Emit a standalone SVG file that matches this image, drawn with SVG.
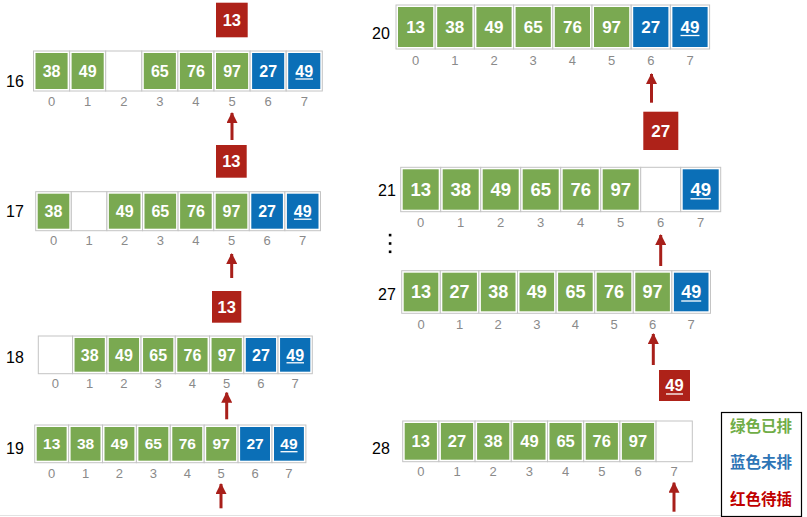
<svg xmlns="http://www.w3.org/2000/svg" width="807" height="517" viewBox="0 0 807 517">
<style>
.c{fill:#fff;stroke:#c4c4c4;stroke-width:1}
.g{fill:#7aa951}
.b{fill:#0b6fb7}
.r{fill:#ae2219}
.v{fill:#fff;font-family:"Liberation Sans",Arial,sans-serif;font-weight:bold;text-anchor:middle}
.ix{fill:#8a8a8a;font-family:"Liberation Sans",Arial,sans-serif;font-size:13px;text-anchor:middle}
.lb{fill:#000;font-family:"Liberation Sans",Arial,sans-serif;font-size:16px}
.u{stroke:#fff;stroke-width:1.3}
.ar{stroke:#a81f1a;stroke-width:3;fill:none;marker-end:url(#ah)}
.lg{font-family:"Noto Sans CJK SC",sans-serif;font-weight:bold;font-size:15.5px;text-anchor:middle}
</style>
<defs>
<marker id="ah" markerUnits="userSpaceOnUse" markerWidth="11" markerHeight="11" refX="10" refY="5.5" orient="auto">
<path d="M0,0 L11,5.5 L0,11 z" fill="#a81f1a"/>
</marker>
</defs>
<rect width="807" height="517" fill="#fff"/>
<line x1="0" y1="515.5" x2="721" y2="515.5" stroke="#e2e2e2" stroke-width="1"/>

<!-- Row 16 -->
<g id="row16">
<text class="lb" x="6" y="86.5">16</text>
<rect class="c" x="33.5" y="51" width="36.1" height="40"/><rect class="c" x="69.6" y="51" width="36.1" height="40"/><rect class="c" x="105.7" y="51" width="36.1" height="40"/><rect class="c" x="141.8" y="51" width="36.1" height="40"/><rect class="c" x="177.9" y="51" width="36.1" height="40"/><rect class="c" x="214" y="51" width="36.1" height="40"/><rect class="c" x="250.1" y="51" width="36.1" height="40"/><rect class="c" x="286.2" y="51" width="36.1" height="40"/>
<rect class="g" x="35.5" y="53" width="32.1" height="36"/><rect class="g" x="71.6" y="53" width="32.1" height="36"/><rect class="g" x="143.8" y="53" width="32.1" height="36"/><rect class="g" x="179.9" y="53" width="32.1" height="36"/><rect class="g" x="216" y="53" width="32.1" height="36"/><rect class="b" x="252.1" y="53" width="32.1" height="36"/><rect class="b" x="288.2" y="53" width="32.1" height="36"/>
<g class="v" font-size="16"><text x="51.55" y="76.7">38</text><text x="87.65" y="76.7">49</text><text x="159.85" y="76.7">65</text><text x="195.95" y="76.7">76</text><text x="232.05" y="76.7">97</text><text x="268.15" y="76.7">27</text><text x="304.25" y="76.7">49</text></g>
<line class="u" x1="295.5" y1="79" x2="313" y2="79"/>
<g class="ix"><text x="51.55" y="106">0</text><text x="87.65" y="106">1</text><text x="123.75" y="106">2</text><text x="159.85" y="106">3</text><text x="195.95" y="106">4</text><text x="232.05" y="106">5</text><text x="268.15" y="106">6</text><text x="304.25" y="106">7</text></g>
</g>

<!-- Row 17 -->
<g id="row17">
<text class="lb" x="6" y="217">17</text>
<rect class="c" x="35.7" y="191.7" width="35.6" height="39"/><rect class="c" x="71.3" y="191.7" width="35.6" height="39"/><rect class="c" x="106.9" y="191.7" width="35.6" height="39"/><rect class="c" x="142.5" y="191.7" width="35.6" height="39"/><rect class="c" x="178.1" y="191.7" width="35.6" height="39"/><rect class="c" x="213.7" y="191.7" width="35.6" height="39"/><rect class="c" x="249.3" y="191.7" width="35.6" height="39"/><rect class="c" x="284.9" y="191.7" width="35.6" height="39"/>
<rect class="g" x="37.7" y="193.7" width="31.6" height="35"/><rect class="g" x="108.9" y="193.7" width="31.6" height="35"/><rect class="g" x="144.5" y="193.7" width="31.6" height="35"/><rect class="g" x="180.1" y="193.7" width="31.6" height="35"/><rect class="g" x="215.7" y="193.7" width="31.6" height="35"/><rect class="b" x="251.3" y="193.7" width="31.6" height="35"/><rect class="b" x="286.9" y="193.7" width="31.6" height="35"/>
<g class="v" font-size="16"><text x="53.5" y="216.9">38</text><text x="124.7" y="216.9">49</text><text x="160.3" y="216.9">65</text><text x="195.9" y="216.9">76</text><text x="231.5" y="216.9">97</text><text x="267.1" y="216.9">27</text><text x="302.7" y="216.9">49</text></g>
<line class="u" x1="294" y1="219.2" x2="311.5" y2="219.2"/>
<g class="ix"><text x="53.5" y="245">0</text><text x="89.1" y="245">1</text><text x="124.7" y="245">2</text><text x="160.3" y="245">3</text><text x="195.9" y="245">4</text><text x="231.5" y="245">5</text><text x="267.1" y="245">6</text><text x="302.7" y="245">7</text></g>
</g>

<!-- Row 18 -->
<g id="row18">
<text class="lb" x="6" y="362.5">18</text>
<rect class="c" x="38.3" y="336" width="34.25" height="37.7"/><rect class="c" x="72.55" y="336" width="34.25" height="37.7"/><rect class="c" x="106.8" y="336" width="34.25" height="37.7"/><rect class="c" x="141.05" y="336" width="34.25" height="37.7"/><rect class="c" x="175.3" y="336" width="34.25" height="37.7"/><rect class="c" x="209.55" y="336" width="34.25" height="37.7"/><rect class="c" x="243.8" y="336" width="34.25" height="37.7"/><rect class="c" x="278.05" y="336" width="34.25" height="37.7"/>
<rect class="g" x="74.55" y="338" width="30.25" height="33.7"/><rect class="g" x="108.8" y="338" width="30.25" height="33.7"/><rect class="g" x="143.05" y="338" width="30.25" height="33.7"/><rect class="g" x="177.3" y="338" width="30.25" height="33.7"/><rect class="g" x="211.55" y="338" width="30.25" height="33.7"/><rect class="b" x="245.8" y="338" width="30.25" height="33.7"/><rect class="b" x="280.05" y="338" width="30.25" height="33.7"/>
<g class="v" font-size="16"><text x="89.7" y="360.5">38</text><text x="123.9" y="360.5">49</text><text x="158.2" y="360.5">65</text><text x="192.4" y="360.5">76</text><text x="226.7" y="360.5">97</text><text x="260.9" y="360.5">27</text><text x="295.2" y="360.5">49</text></g>
<line class="u" x1="286.5" y1="362.8" x2="304" y2="362.8"/>
<g class="ix"><text x="55.4" y="388">0</text><text x="89.7" y="388">1</text><text x="123.9" y="388">2</text><text x="158.2" y="388">3</text><text x="192.4" y="388">4</text><text x="226.7" y="388">5</text><text x="260.9" y="388">6</text><text x="295.2" y="388">7</text></g>
</g>

<!-- Row 19 -->
<g id="row19">
<text class="lb" x="6" y="453.5">19</text>
<rect class="c" x="34.7" y="425" width="33.9" height="37.7"/><rect class="c" x="68.6" y="425" width="33.9" height="37.7"/><rect class="c" x="102.5" y="425" width="33.9" height="37.7"/><rect class="c" x="136.4" y="425" width="33.9" height="37.7"/><rect class="c" x="170.3" y="425" width="33.9" height="37.7"/><rect class="c" x="204.2" y="425" width="33.9" height="37.7"/><rect class="c" x="238.1" y="425" width="33.9" height="37.7"/><rect class="c" x="272" y="425" width="33.9" height="37.7"/>
<rect class="g" x="36.7" y="427" width="29.9" height="33.7"/><rect class="g" x="70.6" y="427" width="29.9" height="33.7"/><rect class="g" x="104.5" y="427" width="29.9" height="33.7"/><rect class="g" x="138.4" y="427" width="29.9" height="33.7"/><rect class="g" x="172.3" y="427" width="29.9" height="33.7"/><rect class="g" x="206.2" y="427" width="29.9" height="33.7"/><rect class="b" x="240.1" y="427" width="29.9" height="33.7"/><rect class="b" x="274" y="427" width="29.9" height="33.7"/>
<g class="v" font-size="15.5"><text x="51.65" y="449.4">13</text><text x="85.55" y="449.4">38</text><text x="119.45" y="449.4">49</text><text x="153.35" y="449.4">65</text><text x="187.25" y="449.4">76</text><text x="221.15" y="449.4">97</text><text x="255.05" y="449.4">27</text><text x="288.95" y="449.4">49</text></g>
<line class="u" x1="280.5" y1="451.7" x2="297.5" y2="451.7"/>
<g class="ix"><text x="51.65" y="477.5">0</text><text x="85.55" y="477.5">1</text><text x="119.45" y="477.5">2</text><text x="153.35" y="477.5">3</text><text x="187.25" y="477.5">4</text><text x="221.15" y="477.5">5</text><text x="255.05" y="477.5">6</text><text x="288.95" y="477.5">7</text></g>
</g>

<!-- Row 20 -->
<g id="row20">
<text class="lb" x="372" y="38.5">20</text>
<rect class="c" x="396" y="5" width="39.2" height="44"/><rect class="c" x="435.2" y="5" width="39.2" height="44"/><rect class="c" x="474.4" y="5" width="39.2" height="44"/><rect class="c" x="513.6" y="5" width="39.2" height="44"/><rect class="c" x="552.8" y="5" width="39.2" height="44"/><rect class="c" x="592" y="5" width="39.2" height="44"/><rect class="c" x="631.2" y="5" width="39.2" height="44"/><rect class="c" x="670.4" y="5" width="39.2" height="44"/>
<rect class="g" x="398" y="7" width="35.2" height="40"/><rect class="g" x="437.2" y="7" width="35.2" height="40"/><rect class="g" x="476.4" y="7" width="35.2" height="40"/><rect class="g" x="515.6" y="7" width="35.2" height="40"/><rect class="g" x="554.8" y="7" width="35.2" height="40"/><rect class="g" x="594" y="7" width="35.2" height="40"/><rect class="b" x="633.2" y="7" width="35.2" height="40"/><rect class="b" x="672.4" y="7" width="35.2" height="40"/>
<g class="v" font-size="17"><text x="415.6" y="33.1">13</text><text x="454.8" y="33.1">38</text><text x="494" y="33.1">49</text><text x="533.2" y="33.1">65</text><text x="572.4" y="33.1">76</text><text x="611.6" y="33.1">97</text><text x="650.8" y="33.1">27</text><text x="690" y="33.1">49</text></g>
<line class="u" x1="680.5" y1="35.5" x2="699.5" y2="35.5"/>
<g class="ix"><text x="415.6" y="64.5">0</text><text x="454.8" y="64.5">1</text><text x="494" y="64.5">2</text><text x="533.2" y="64.5">3</text><text x="572.4" y="64.5">4</text><text x="611.6" y="64.5">5</text><text x="650.8" y="64.5">6</text><text x="690" y="64.5">7</text></g>
</g>

<!-- Row 21 -->
<g id="row21">
<text class="lb" x="378" y="195.5" font-size="15">21</text>
<rect class="c" x="400.7" y="167.3" width="40" height="44.4"/><rect class="c" x="440.7" y="167.3" width="40" height="44.4"/><rect class="c" x="480.7" y="167.3" width="40" height="44.4"/><rect class="c" x="520.7" y="167.3" width="40" height="44.4"/><rect class="c" x="560.7" y="167.3" width="40" height="44.4"/><rect class="c" x="600.7" y="167.3" width="40" height="44.4"/><rect class="c" x="640.7" y="167.3" width="40" height="44.4"/><rect class="c" x="680.7" y="167.3" width="40" height="44.4"/>
<rect class="g" x="402.7" y="169.3" width="36" height="40.4"/><rect class="g" x="442.7" y="169.3" width="36" height="40.4"/><rect class="g" x="482.7" y="169.3" width="36" height="40.4"/><rect class="g" x="522.7" y="169.3" width="36" height="40.4"/><rect class="g" x="562.7" y="169.3" width="36" height="40.4"/><rect class="g" x="602.7" y="169.3" width="36" height="40.4"/><rect class="b" x="682.7" y="169.3" width="36" height="40.4"/>
<g class="v" font-size="18.5"><text x="420.7" y="196.1">13</text><text x="460.7" y="196.1">38</text><text x="500.7" y="196.1">49</text><text x="540.7" y="196.1">65</text><text x="580.7" y="196.1">76</text><text x="620.7" y="196.1">97</text><text x="700.7" y="196.1">49</text></g>
<line class="u" x1="690.5" y1="198.8" x2="710.9" y2="198.8"/>
<g class="ix"><text x="420.7" y="227">0</text><text x="460.7" y="227">1</text><text x="500.7" y="227">2</text><text x="540.7" y="227">3</text><text x="580.7" y="227">4</text><text x="620.7" y="227">5</text><text x="660.7" y="227">6</text><text x="700.7" y="227">7</text></g>
</g>

<g id="ellipsis" fill="#000">
<rect x="388.8" y="233.8" width="2.6" height="2.6"/><rect x="388.8" y="242.2" width="2.6" height="2.6"/><rect x="388.8" y="250.5" width="2.6" height="2.6"/>
</g>

<!-- Row 27 -->
<g id="row27">
<text class="lb" x="378" y="299.5" font-size="15">27</text>
<rect class="c" x="401.7" y="270.7" width="38.6" height="42.6"/><rect class="c" x="440.3" y="270.7" width="38.6" height="42.6"/><rect class="c" x="478.9" y="270.7" width="38.6" height="42.6"/><rect class="c" x="517.5" y="270.7" width="38.6" height="42.6"/><rect class="c" x="556.1" y="270.7" width="38.6" height="42.6"/><rect class="c" x="594.7" y="270.7" width="38.6" height="42.6"/><rect class="c" x="633.3" y="270.7" width="38.6" height="42.6"/><rect class="c" x="671.9" y="270.7" width="38.6" height="42.6"/>
<rect class="g" x="403.7" y="272.7" width="34.6" height="38.6"/><rect class="g" x="442.3" y="272.7" width="34.6" height="38.6"/><rect class="g" x="480.9" y="272.7" width="34.6" height="38.6"/><rect class="g" x="519.5" y="272.7" width="34.6" height="38.6"/><rect class="g" x="558.1" y="272.7" width="34.6" height="38.6"/><rect class="g" x="596.7" y="272.7" width="34.6" height="38.6"/><rect class="g" x="635.3" y="272.7" width="34.6" height="38.6"/><rect class="b" x="673.9" y="272.7" width="34.6" height="38.6"/>
<g class="v" font-size="18"><text x="421" y="298.4">13</text><text x="459.6" y="298.4">27</text><text x="498.2" y="298.4">38</text><text x="536.8" y="298.4">49</text><text x="575.4" y="298.4">65</text><text x="614" y="298.4">76</text><text x="652.6" y="298.4">97</text><text x="691.2" y="298.4">49</text></g>
<line class="u" x1="681.2" y1="301" x2="701.2" y2="301"/>
<g class="ix"><text x="421" y="328.5">0</text><text x="459.6" y="328.5">1</text><text x="498.2" y="328.5">2</text><text x="536.8" y="328.5">3</text><text x="575.4" y="328.5">4</text><text x="614" y="328.5">5</text><text x="652.6" y="328.5">6</text><text x="691.2" y="328.5">7</text></g>
</g>

<!-- Row 28 -->
<g id="row28">
<text class="lb" x="372" y="453.5" font-size="15">28</text>
<rect class="c" x="402.7" y="421" width="36.2" height="40.7"/><rect class="c" x="438.9" y="421" width="36.2" height="40.7"/><rect class="c" x="475.1" y="421" width="36.2" height="40.7"/><rect class="c" x="511.3" y="421" width="36.2" height="40.7"/><rect class="c" x="547.5" y="421" width="36.2" height="40.7"/><rect class="c" x="583.7" y="421" width="36.2" height="40.7"/><rect class="c" x="619.9" y="421" width="36.2" height="40.7"/><rect class="c" x="656.1" y="421" width="36.2" height="40.7"/>
<rect class="g" x="404.7" y="423" width="32.2" height="36.7"/><rect class="g" x="440.9" y="423" width="32.2" height="36.7"/><rect class="g" x="477.1" y="423" width="32.2" height="36.7"/><rect class="g" x="513.3" y="423" width="32.2" height="36.7"/><rect class="g" x="549.5" y="423" width="32.2" height="36.7"/><rect class="g" x="585.7" y="423" width="32.2" height="36.7"/><rect class="g" x="621.9" y="423" width="32.2" height="36.7"/>
<g class="v" font-size="16.5"><text x="420.8" y="447.3">13</text><text x="457" y="447.3">27</text><text x="493.2" y="447.3">38</text><text x="529.4" y="447.3">49</text><text x="565.6" y="447.3">65</text><text x="601.8" y="447.3">76</text><text x="638" y="447.3">97</text></g>
<g class="ix"><text x="420.8" y="476">0</text><text x="457" y="476">1</text><text x="493.2" y="476">2</text><text x="529.4" y="476">3</text><text x="565.6" y="476">4</text><text x="601.8" y="476">5</text><text x="638" y="476">6</text><text x="674.2" y="476">7</text></g>
</g>

<!-- Red pending boxes -->
<g id="pending1"><rect class="r" x="216" y="2.7" width="31.7" height="34.6"/><text class="v" font-size="16.5" x="231.85" y="25.9">13</text></g>
<g id="pending2"><rect class="r" x="216" y="145" width="30.7" height="32.7"/><text class="v" font-size="16.5" x="231.35" y="167.3">13</text></g>
<g id="pending3"><rect class="r" x="212" y="291" width="29.3" height="31.7"/><text class="v" font-size="16.5" x="226.65" y="312.8">13</text></g>
<g id="pending4"><rect class="r" x="643.3" y="111.7" width="35" height="38.3"/><text class="v" font-size="17" x="660.8" y="136.9">27</text></g>
<g id="pending5"><rect class="r" x="659" y="370" width="31" height="31"/><text class="v" font-size="16.5" x="674.5" y="391.4">49</text><line class="u" x1="666" y1="394" x2="683" y2="394"/></g>

<!-- Connectors -->
<g id="connectors">
<line class="ar" x1="232" y1="140" x2="232" y2="113"/>
<line class="ar" x1="231.7" y1="278" x2="231.7" y2="254"/>
<line class="ar" x1="226.7" y1="419.3" x2="226.7" y2="392.7"/>
<line class="ar" x1="221" y1="508.3" x2="221" y2="484"/>
<line class="ar" x1="651.5" y1="102.7" x2="651.5" y2="74"/>
<line class="ar" x1="660.7" y1="266" x2="660.7" y2="235"/>
<line class="ar" x1="653.3" y1="365" x2="653.3" y2="334"/>
<line class="ar" x1="674" y1="511.7" x2="674" y2="482.7"/>
</g>

<!-- Legend -->
<g id="legend">
<rect x="721.5" y="412.5" width="80" height="104" fill="#fff" stroke="#000" stroke-width="1.2"/>
<text class="lg" x="761" y="431.5" fill="#70ad47">绿色已排</text>
<text class="lg" x="761" y="468" fill="#2e75b6">蓝色未排</text>
<text class="lg" x="761" y="504.5" fill="#c00000">红色待插</text>
</g>
</svg>
